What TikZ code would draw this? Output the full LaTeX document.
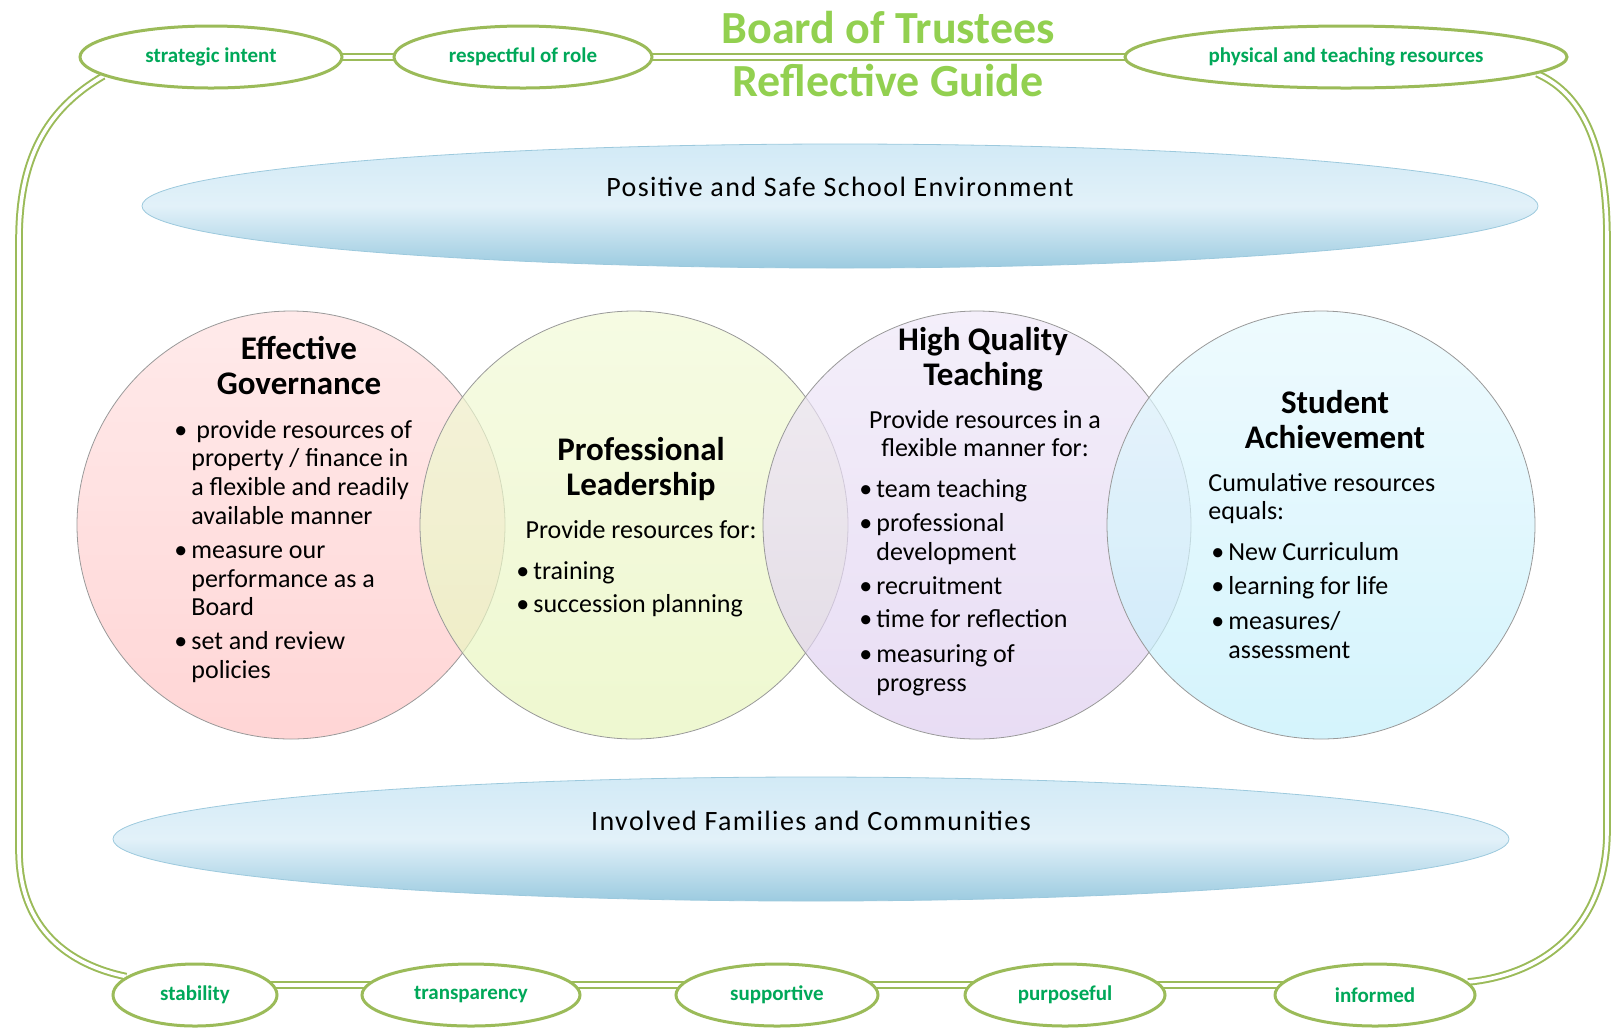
\documentclass[tikz,border=0pt]{standalone}
\usepackage{fontspec}
\setmainfont{Carlito}
\newfontfamily\bandfont[LetterSpace=5]{Carlito}
\usetikzlibrary{shapes.geometric,backgrounds}
\definecolor{olivegreen}{HTML}{9BBB59}
\definecolor{lblgreen}{HTML}{00A859}
\definecolor{titlegreen}{HTML}{92D050}
\definecolor{bandtop}{HTML}{D2EAF6}
\definecolor{bandmid}{HTML}{E2F1F9}
\definecolor{bandbot}{HTML}{9CCBE0}
\definecolor{bandedge}{HTML}{9CC9DD}
\definecolor{egtop}{HTML}{FFE1E1}
\definecolor{egbot}{HTML}{FFC4C4}
\definecolor{pltop}{HTML}{F2F9D7}
\definecolor{plbot}{HTML}{E7F5BC}
\definecolor{hqtop}{HTML}{EFE8F8}
\definecolor{hqbot}{HTML}{DECEEF}
\definecolor{satop}{HTML}{E7F9FE}
\definecolor{sabot}{HTML}{C2EFFB}
\newcommand{\bl}{\makebox[8.5pt][l]{\textbullet}}
\newcommand{\ind}{\hspace*{8.5pt}}
\begin{document}
\begin{tikzpicture}[x=0.5pt,y=-0.5pt,
  tag/.style={ellipse, draw=olivegreen, line width=1.5pt, fill=white, inner sep=0pt, minimum height=31pt, font=\fontsize{10.5}{12}\selectfont\bfseries, text=lblgreen},
  dbl/.style={draw=olivegreen, line width=1pt, double=white, double distance=1.8pt},
  band/.style={ellipse, inner sep=0pt, minimum width=698pt, minimum height=62pt, top color=bandtop, bottom color=bandbot, middle color=bandmid, draw=bandedge, line width=0.4pt},
  bandtext/.style={font=\bandfont\fontsize{14}{16}\selectfont, inner sep=0pt},
  venn/.style={circle, inner sep=0pt, minimum size=214pt, draw=black!40, line width=0.4pt, fill opacity=0.7},
  vtitle/.style={font=\fontsize{16.5}{17.5}\selectfont\bfseries, inner sep=0pt, anchor=base},
  body/.style={font=\fontsize{13}{14.4}\selectfont, inner sep=0pt, anchor=base west},
  bodyc/.style={font=\fontsize{13}{14}\selectfont, inner sep=0pt, anchor=base},
  maintitle/.style={font=\fontsize{23}{26}\selectfont\bfseries, text=titlegreen, inner sep=0pt, anchor=base},
]
\useasboundingbox (0,0) rectangle (1615,1030);

% title
\node[maintitle] (t1) at (888,43) {Board of Trustees};
\node[maintitle] (t2) at (888,96) {Reflective Guide};

% top tags
\node[tag, minimum width=131pt] (si) at (211,57) {strategic intent};
\node[tag, minimum width=129pt] (rr) at (523,57) {respectful of role};
\node[tag, minimum width=221pt] (ptr) at (1346,57) {physical and teaching resources};

% bottom tags
\node[tag, minimum width=82pt] (stab) at (195,995) {stability};
\node[tag, minimum width=109pt] (trans) at (471,995) {transparency};
\node[tag, minimum width=101pt] (supp) at (777,995) {supportive};
\node[tag, minimum width=100pt] (purp) at (1065,995) {purposeful};
\node[tag, minimum width=100pt] (inf) at (1375,995) {informed};

% connectors
\begin{scope}[on background layer]
\draw[dbl] (si.center) -- (rr.center);
\draw[dbl] (rr.center) -- (ptr.center);
\draw[dbl] ([yshift=5pt]stab.center) -- ([yshift=5pt]trans.center);
\draw[dbl] ([yshift=5pt]trans.center) -- ([yshift=5pt]supp.center);
\draw[dbl] ([yshift=5pt]supp.center) -- ([yshift=5pt]purp.center);
\draw[dbl] ([yshift=5pt]purp.center) -- ([yshift=5pt]inf.center);
\draw[dbl] (si.190) .. controls (45,110) and (19,160) .. (19,240) -- (19,850) .. controls (19,930) and (70,965) .. (stab.165);
\draw[dbl] (ptr.-5) .. controls (1585,95) and (1607,150) .. (1607,240) -- (1607,830) .. controls (1607,930) and (1540,975) .. (inf.8);
\end{scope}

% bands
\node[band] (envband) at (840,206) {};
\node[bandtext] (envtxt) at (840,187) {Positive and Safe School Environment};
\node[band] (famband) at (811,839) {};
\node[bandtext] (famtxt) at (811,821) {Involved Families and Communities};

% circles
\node[venn, top color=egtop, bottom color=egbot] (eg) at (291,525) {};
\node[venn, top color=pltop, bottom color=plbot] (pl) at (634,525) {};
\node[venn, top color=hqtop, bottom color=hqbot] (hq) at (977,525) {};
\node[venn, top color=satop, bottom color=sabot] (sa) at (1321,525) {};

% Effective Governance
\node[vtitle] (egt) at (299,359) {\begin{tabular}[t]{@{}c@{}}Effective\\Governance\end{tabular}};
\node[body] (egb) at (174,438) {\begin{tabular}[t]{@{}l@{}}
\bl\hspace*{2.5pt}provide resources of\\
\ind property / finance in\\
\ind a flexible and readily\\
\ind available manner\\[2.5pt]
\bl measure our\\
\ind performance as a\\
\ind Board\\[2.5pt]
\bl set and review\\
\ind policies
\end{tabular}};

% Professional Leadership
\node[vtitle] (plt) at (641,460) {\begin{tabular}[t]{@{}c@{}}Professional\\Leadership\end{tabular}};
\node[bodyc] (pli) at (641,538) {Provide resources for:};
\node[body] (plb) at (516,579) {\begin{tabular}[t]{@{}l@{}}
\bl training\\[2.2pt]
\bl succession planning
\end{tabular}};

% High Quality Teaching
\node[vtitle] (hqt) at (983,350) {\begin{tabular}[t]{@{}c@{}}High Quality\\Teaching\end{tabular}};
\node[bodyc] (hqi) at (985,428) {\begin{tabular}[t]{@{}c@{}}Provide resources in a\\flexible manner for:\end{tabular}};
\node[body] (hqb) at (859,497) {\begin{tabular}[t]{@{}l@{}}
\bl team teaching\\[2.8pt]
\bl professional\\
\ind development\\[2.5pt]
\bl recruitment\\[2.5pt]
\bl time for reflection\\[2.8pt]
\bl measuring of\\
\ind progress
\end{tabular}};

% Student Achievement
\node[vtitle] (sat) at (1335,413) {\begin{tabular}[t]{@{}c@{}}Student\\Achievement\end{tabular}};
\node[body] (sai) at (1208,491) {\begin{tabular}[t]{@{}l@{}}Cumulative resources\\equals:\end{tabular}};
\node[body] (sab) at (1211,560) {\begin{tabular}[t]{@{}l@{}}
\bl New Curriculum\\[3pt]
\bl learning for life\\[3pt]
\bl measures/\\
\ind assessment
\end{tabular}};
\end{tikzpicture}
\end{document}
